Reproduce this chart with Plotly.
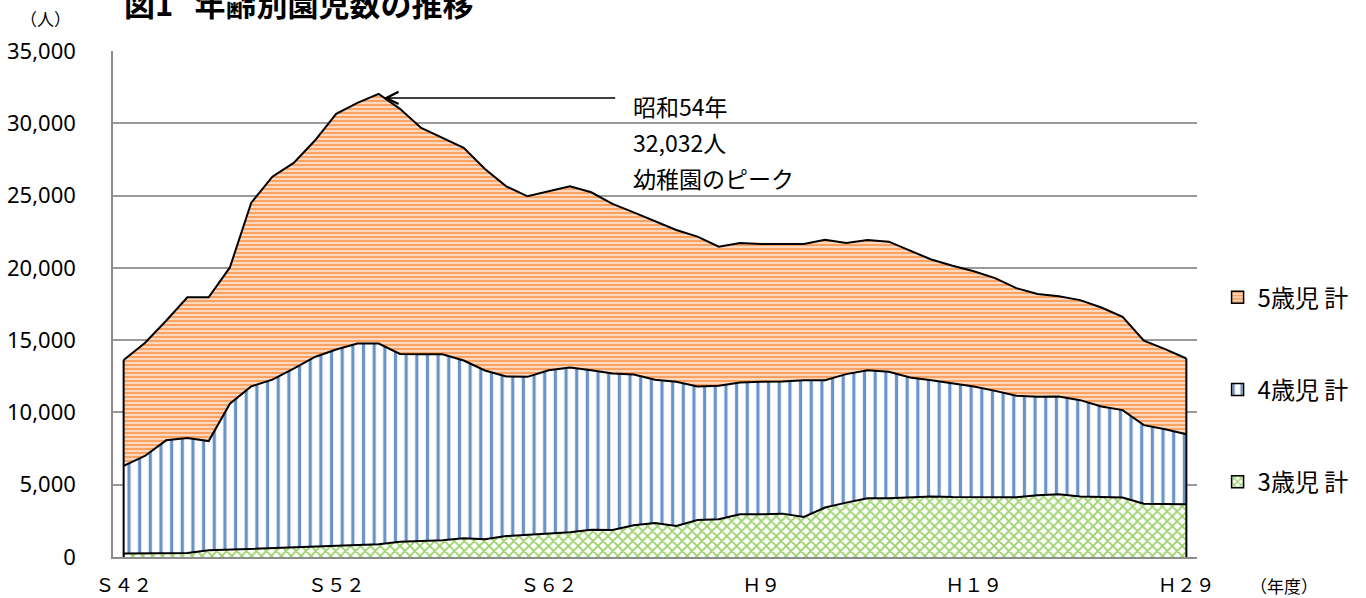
import plotly.graph_objects as go

# ---- data ----
years = [f"S{n}" for n in range(42, 64)] + [f"H{n}" for n in range(1, 30)]

age3 = [250, 250, 260, 270, 460, 510, 580, 600, 690, 715,
        760, 830, 880, 1060, 1110, 1150, 1290, 1220, 1450, 1520,
        1615, 1710, 1890, 1870, 2190, 2350, 2150, 2560, 2610, 2950,
        2950, 3000, 2770, 3420, 3760, 4060, 4060, 4150, 4190, 4150,
        4150, 4150, 4130, 4270, 4340, 4180, 4150, 4110, 3690, 3650,
        3650]

age4 = [6050, 6740, 7810, 7960, 7560, 10090, 11220, 11670, 12340, 13120,
        13590, 13930, 13880, 12990, 12920, 12880, 12300, 11680, 11040, 10940,
        11300, 11400, 11030, 10820, 10430, 9910, 9970, 9230, 9230, 9120,
        9170, 9140, 9460, 8810, 8890, 8860, 8750, 8270, 8040, 7870,
        7640, 7340, 7020, 6810, 6760, 6670, 6260, 6050, 5430, 5190,
        4840]

age5 = [7320, 7810, 8270, 9730, 9940, 9430, 12690, 14040, 14230, 14970,
        16300, 16650, 17272, 16950, 15650, 14960, 14710, 13940, 13150, 12490,
        12380, 12530, 12310, 11730, 11220, 10970, 10500, 10370, 9620, 9650,
        9530, 9510, 9420, 9720, 9070, 9010, 9000, 8770, 8350, 8130,
        7970, 7800, 7450, 7110, 6930, 6920, 6850, 6460, 5840, 5540,
        5240]

series_names = ["3歳児 計", "4歳児 計", "5歳児 計"]
tick_years = ["S42", "S52", "S62", "H9", "H19", "H29"]
tick_text = ["Ｓ４２", "Ｓ５２", "Ｓ６２", "Ｈ９", "Ｈ１９", "Ｈ２９"]
peak_text = ["昭和54年", "32,032人", "幼稚園のピーク"]

# ---- styling ----
JP = "Noto Sans CJK JP"
patterns = [
    dict(shape="x", fgcolor="#9BD26A", bgcolor="#FFFFFF", size=7, solidity=0.45, fillmode="replace"),
    dict(shape="|", fgcolor="#6A93CA", bgcolor="#FFFFFF", size=10.66, solidity=0.3, fillmode="replace"),
    dict(shape="-", fgcolor="#F8A263", bgcolor="#FDE6D6", size=4, solidity=0.6, fillmode="replace"),
]
legend_patterns = [
    dict(shape="x", fgcolor="#9BD26A", bgcolor="#FFFFFF", size=6, solidity=0.45, fillmode="replace"),
    dict(shape="|", fgcolor="#6A93CA", bgcolor="#FFFFFF", size=12, solidity=0.3, fillmode="replace"),
    dict(shape="-", fgcolor="#F8A263", bgcolor="#FDE6D6", size=4, solidity=0.6, fillmode="replace"),
]

fig = go.Figure()
for name, vals, pat in zip(series_names, [age3, age4, age5], patterns):
    fig.add_trace(go.Scatter(
        x=years, y=vals, name=name, stackgroup="one", mode="lines",
        line=dict(color="black", width=2), fillpattern=pat,
        showlegend=False,
    ))

# vertical closing edges of the stacked areas
totals = [a + b + c for a, b, c in zip(age3, age4, age5)]
for idx in (0, len(years) - 1):
    fig.add_trace(go.Scatter(
        x=[years[idx], years[idx]], y=[0, totals[idx]], mode="lines",
        line=dict(color="black", width=2), showlegend=False, hoverinfo="skip",
    ))

# legend-only entries (square patterned swatches)
for rank, (name, pat) in enumerate(zip(series_names, legend_patterns)):
    fig.add_trace(go.Bar(
        x=[None], y=[None], name=name, legendgroup=name, legendrank=3 - rank,
        marker=dict(pattern=pat, line=dict(color="black", width=1.5)),
        hoverinfo="skip",
    ))

peak_i = max(range(len(totals)), key=lambda i: totals[i])

fig.update_layout(
    width=1366, height=598,
    margin=dict(l=113, r=166, t=51, b=41),
    paper_bgcolor="white", plot_bgcolor="white",
    font=dict(family=JP, color="black"),
    showlegend=True,
    legend=dict(
        x=1.019, y=0.557, xanchor="left", yanchor="top",
        traceorder="grouped", tracegroupgap=58,
        font=dict(family=JP, size=24), itemwidth=30,
        bgcolor="rgba(0,0,0,0)",
    ),
    xaxis=dict(
        type="category", categoryorder="array", categoryarray=years,
        range=[-0.5, len(years) - 0.5], automargin=False,
        tickmode="array", tickvals=tick_years, ticktext=tick_text,
        showgrid=False, showline=True, linecolor="#8C8C8C", linewidth=1.5,
        ticks="", tickfont=dict(family=JP, size=19), ticklabelstandoff=10,
        zeroline=False,
    ),
    yaxis=dict(
        range=[0, 35000], dtick=5000, tickformat=",", automargin=False,
        showgrid=True, gridcolor="#9A9A9A", gridwidth=1.5,
        showline=True, linecolor="#8C8C8C", linewidth=1.5,
        ticks="", tickfont=dict(family="Noto Sans", size=22), ticklabelstandoff=31,
        zeroline=False,
    ),
)

# peak arrow
fig.add_annotation(
    x=years[peak_i], y=totals[peak_i], xref="x", yref="y",
    text="", showarrow=True, arrowhead=5, arrowsize=1.6, arrowwidth=1.5,
    arrowcolor="black", ax=236, ay=0, standoff=3, xshift=2, yshift=-4,
)
for t, yp in zip(peak_text, [0.892, 0.821, 0.750]):
    fig.add_annotation(
        x=0.4775, y=yp, xref="paper", yref="paper", text=t, showarrow=False,
        xanchor="left", yanchor="middle", font=dict(family=JP, size=23),
    )

# title (partly cut off at top, as in the source), unit labels
fig.add_annotation(
    x=0.008, y=1.096, xref="paper", yref="paper",
    text="<b>図1&nbsp;&nbsp;&nbsp;年齢別園児数の推移</b>",
    showarrow=False, xanchor="left", yanchor="middle", font=dict(family=JP, size=31),
)
fig.add_annotation(
    x=-0.0626, y=1.064, xref="paper", yref="paper", text="（人）",
    showarrow=False, xanchor="center", yanchor="middle", font=dict(family=JP, size=17),
)
fig.add_annotation(
    x=1.080, y=-0.057, xref="paper", yref="paper", text="（年度）",
    showarrow=False, xanchor="center", yanchor="middle", font=dict(family=JP, size=17),
)

fig.write_html(
    "out.html",
    config={"displayModeBar": False},
    post_script="document.body.style.margin='0';document.body.style.overflow='hidden';",
)
